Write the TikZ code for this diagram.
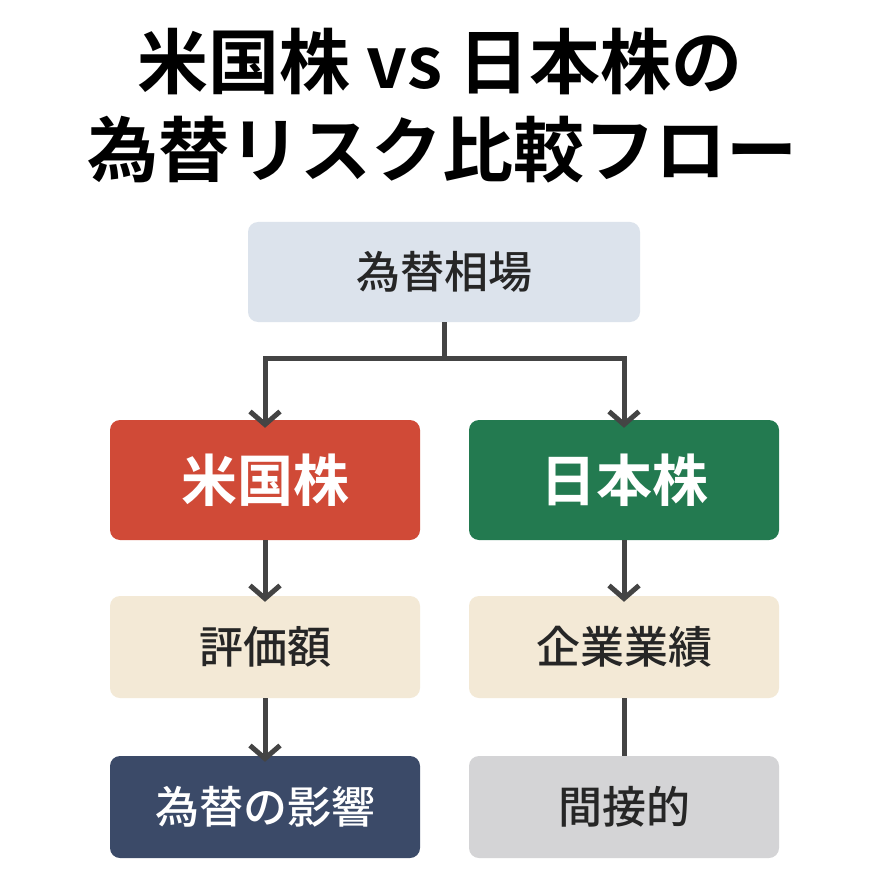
\documentclass[tikz,border=0pt]{standalone}
\usepackage{fontspec}
\newfontfamily\jp{Noto Sans CJK JP Medium}
\newfontfamily\jpb{Noto Sans CJK JP Bold}
\usetikzlibrary{arrows.meta}
\definecolor{cTop}{HTML}{DCE3EC}
\definecolor{cRed}{HTML}{D04A37}
\definecolor{cGreen}{HTML}{237A50}
\definecolor{cBeige}{HTML}{F3E9D6}
\definecolor{cNavy}{HTML}{3B4A68}
\definecolor{cGray}{HTML}{D4D4D6}
\definecolor{cLine}{HTML}{444444}
\tikzset{
 box/.style={rounded corners=10pt, minimum width=310pt, minimum height=102pt, inner sep=0pt, font=\jp\fontsize{44}{50}\selectfont, text=black!85},
 big/.style={box, minimum height=120pt, font=\jpb\fontsize{56}{60}\selectfont, text=white},
 conn/.style={draw=cLine, line width=5pt, -{Straight Barb[length=13pt,width=30pt,line width=5pt]}},
 plain/.style={draw=cLine, line width=5pt},
}
\begin{document}
\begin{tikzpicture}[x=1pt,y=-1pt]
\useasboundingbox[fill=white] (0,0) rectangle (890,890);
\node[font=\jpb\fontsize{71}{76}\selectfont] (t1) at (440,62) {米国株 vs 日本株の};
\node[font=\jpb\fontsize{71}{76}\selectfont] (t2) at (442,150) {為替リスク比較フロー};
\node[box, fill=cTop, minimum width=392pt, minimum height=100pt] (fx) at (444,272) {為替相場};
\node[big, fill=cRed] (us) at (265,480) {米国株};
\node[big, fill=cGreen] (jp) at (624,480) {日本株};
\node[box, fill=cBeige] (val) at (265,647) {評価額};
\node[box, fill=cBeige] (perf) at (624,647) {企業業績};
\node[box, fill=cNavy, text=white] (eff) at (265,807) {為替の影響};
\node[box, fill=cGray] (ind) at (624,807) {間接的};
\coordinate (m) at (444,358);
\draw[plain] (fx.south) -- (m);
\draw[conn] (m) -| ([yshift=-8pt]us.north);
\draw[conn] (m) -| ([yshift=-8pt]jp.north);
\draw[conn] (us.south) -- ([yshift=-6pt]val.north);
\draw[conn] (jp.south) -- ([yshift=-6pt]perf.north);
\draw[conn] (val.south) -- ([yshift=-6pt]eff.north);
\draw[plain] (perf.south) -- (ind.north);
\end{tikzpicture}
\end{document}
